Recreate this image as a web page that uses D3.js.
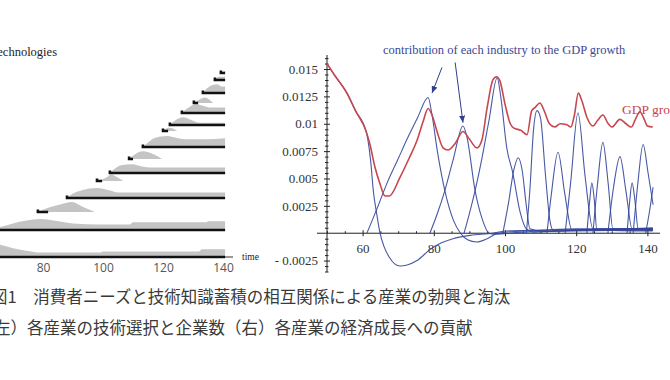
<!DOCTYPE html>
<html>
<head>
<meta charset="utf-8">
<script src="https://cdn.jsdelivr.net/npm/d3@7"></script>
<style>
	body { margin: 0; background: #fff; }
</style>
</head>
<body>
<div id="chart"></div>
<script>
// ---- left panel: industries (technology level, start, end of black line, firms profile)
const industryLevels = [0, 2.7, 4.5, 5.9, 7.6, 8.4, 9.8, 11.0, 12.6, 13.2, 14.4, 15.4, 16.4, 17.7, 18.4];
const industryStart = [60, 60, 78.3, 88, 98, 102.3, 108.7, 113.3, 120, 122.3, 126.3, 130.3, 133.3, 137.3, 139.3];
const industryLineEnd = [140.7, 140.7, 81.7, 140.7, 99.7, 140.7, 110, 140.7, 121.7, 140.7, 140.7, 131.7, 140.7, 140.7, 140.7];
const firmProfiles = [
	[[60, 13], [66, 11], [70, 8], [75, 5.5], [79, 4], [99, 4], [100, 5], [132, 5], [133, 7], [140.7, 7]],
	[[60, 1], [66, 3], [70, 6], [79, 10], [85, 8], [90, 6], [99, 5], [109, 5], [110, 7], [134.5, 7], [135, 8], [140.7, 8]],
	[[78.3, 0], [82, 4], [86, 7], [89.7, 9], [93, 5], [97.3, 0]],
	[[88, 0], [90, 4], [93, 7], [98, 9], [102, 7], [105, 5], [140.7, 5]],
	[[98, 0], [101, 3], [102.7, 6], [105, 3], [106.7, 0]],
	[[102.3, 0], [104, 4], [106, 7], [109.7, 8], [113, 6], [116, 5], [140.7, 5]],
	[[108.7, 0], [110, 3], [113.3, 7], [117, 4], [119.7, 0]],
	[[113.3, 0], [115, 4], [117, 8], [121.3, 10], [125, 8], [128, 7], [134, 7], [140.7, 8]],
	[[120, 0], [122, 3], [123.5, 2], [124.7, 0]],
	[[122.3, 0], [124, 4], [126.7, 7], [129, 5], [132.3, 2], [140.7, 2]],
	[[126.3, 0], [128, 4], [131.3, 8], [134, 6], [136, 5], [140.7, 5]],
	[[130.3, 0], [132, 3], [134, 5], [135.5, 3], [136.7, 0]],
	[[133.3, 0], [135, 5], [138, 8], [139.5, 6], [140.7, 6]],
	[[137.3, 0], [138.5, 3], [140.7, 3]],
	[[139.3, 0], [140.7, 2]],
];
const leftTicks = [80, 100, 120, 140];

// ---- right panel: GDP growth and contribution of each industry
const gdpGrowth = [
	[50, 0.0155], [52, 0.0145], [55.6, 0.0128], [58, 0.0112], [61, 0.0093], [62, 0.0082], [63.5, 0.006],
	[64.9, 0.0045], [66.3, 0.0034], [67.5, 0.0034], [70.5, 0.0051], [73, 0.0068], [75.3, 0.0085], [77, 0.0102],
	[78.4, 0.0114], [79.5, 0.0108], [81, 0.0092], [82.6, 0.0078], [84, 0.0076], [86, 0.0082], [88.2, 0.0093],
	[90, 0.0086], [92.1, 0.0078], [93.5, 0.0085], [95, 0.0115], [96.6, 0.014], [97.6, 0.0143], [98.6, 0.0139],
	[100, 0.0118], [101.5, 0.01], [102.5, 0.0096], [104.5, 0.0094], [106.2, 0.009], [107.5, 0.0112], [108.5, 0.0115],
	[109.8, 0.0119], [111, 0.0112], [112.5, 0.01], [114, 0.0097], [115.5, 0.01], [117.4, 0.0099], [118.5, 0.0097],
	[119.5, 0.0108], [120.6, 0.0128], [121.5, 0.0122], [123, 0.0106], [124.7, 0.0098], [126, 0.0103], [127.5, 0.0108],
	[129, 0.01], [130, 0.0097], [132.3, 0.0104], [134, 0.01], [135.5, 0.0097], [136.5, 0.0103], [137.9, 0.0111],
	[139, 0.0105], [140, 0.0098], [141.5, 0.0097],
];
const contributions = [
	[[50, 0.0155], [52, 0.0145], [55.6, 0.0128], [58, 0.0112], [61, 0.0093], [61.5, 0.0085], [62.3, 0.0065], [63, 0.0039],
		[64, 0.0017], [64.9, 0], [66, -0.0012], [67.5, -0.0022], [69, -0.0028], [70.5, -0.003], [72.5, -0.0029],
		[75.3, -0.0025], [78.9, -0.0015], [82, -0.0009], [85.4, -0.0005], [90.2, -0.0002], [96.6, 0], [100, 0.0002],
		[110, 0.0003], [120, 0.0004], [141.5, 0.0004]],
	[[61.2, 0], [64, 0.0022], [66.9, 0.0046], [70, 0.0068], [72.5, 0.0086], [75.5, 0.0106], [78.4, 0.0124], [79.5, 0.0108],
		[81, 0.0075], [83.1, 0.0039], [85.5, 0.0012], [87.5, 0], [89.5, -0.0006], [92, -0.0008], [95, -0.0005], [98, 0],
		[105, 0.0002], [120, 0.0003], [141.5, 0.0003]],
	[[78.9, 0], [81, 0.0018], [83.1, 0.0039], [85.5, 0.0068], [88.2, 0.0098], [89.3, 0.0088], [91.6, 0.0039],
		[93.5, 0.0014], [95.5, 0], [97, -0.0001], [105, 0.0001], [141.5, 0.0003]],
	[[88.5, 0], [90, 0.0018], [91.6, 0.0039], [93.5, 0.0068], [95.5, 0.0103], [97.8, 0.0142], [98.8, 0.0125],
		[100.5, 0.0078], [102.2, 0.0055], [104.2, 0.002], [106, 0.0004], [108, 0.0001], [120, 0.0003], [141.5, 0.0004]],
	[[99.4, 0], [101, 0.0028], [102.5, 0.0058], [103.7, 0.0069], [104.8, 0.0058], [106, 0.0025], [107, 0.0004],
		[110, 0.0002], [141.5, 0.0005]],
	[[106, 0], [107, 0.004], [108, 0.0094], [109, 0.0112], [110, 0.0105], [111.3, 0.0056], [112.6, 0.0012],
		[113.5, 0.0003], [141.5, 0.0004]],
	[[111.8, 0], [113, 0.0035], [114.9, 0.0074], [116.8, 0.0036], [118.8, 0.0003], [141.5, 0.0003]],
	[[116.9, 0], [118.5, 0.0048], [120.5, 0.011], [122.5, 0.0052], [124.7, 0.0004], [141.5, 0.0004]],
	[[123, 0], [123.8, 0.003], [124.4, 0.0046], [125.1, 0.003], [125.8, 0.0003], [141.5, 0.0002]],
	[[124.7, 0], [126, 0.0045], [127.5, 0.0083], [129, 0.0045], [130.3, 0.0004], [141.5, 0.0004]],
	[[128.9, 0], [130.5, 0.0042], [132.3, 0.007], [134, 0.0038], [135.7, 0.0004], [141.5, 0.0003]],
	[[134.3, 0], [135, 0.0028], [135.7, 0.0046], [136.5, 0.003], [137.4, 0.0004], [141.5, 0.0003]],
	[[136, 0], [137.3, 0.0045], [138.8, 0.0081], [140.2, 0.0055], [141.6, 0.0026]],
	[[139.5, 0], [140.5, 0.0018], [141.6, 0.0042]],
];
const rightXTicks = [60, 80, 100, 120, 140];
const rightYTicks = [-0.0025, 0.0025, 0.005, 0.0075, 0.01, 0.0125, 0.015];
const rightYLabels = ['- 0.0025', '0.0025', '0.005', '0.0075', '0.01', '0.0125', '0.015'];
// arrow tails and heads, in data units
const arrows = [
	[[82.3, 0.01515], [79.5, 0.0128]],
	[[86, 0.0156], [88.2, 0.0101]],
];

const captionLines = [
	'図1　消費者ニーズと技術知識蓄積の相互関係による産業の勃興と淘汰',
	'（左）各産業の技術選択と企業数（右）各産業の経済成長への貢献',
];

const width = 670;
const height = 380;
const serif = '"Liberation Serif", "DejaVu Serif", serif';
const blue = '#34469a';
const red = '#c8464e';

const svg = d3.select('#chart').append('svg')
	.attr('width', width)
	.attr('height', height);


/* --------- Left panel --------- */
const xL = d3.scaleLinear().domain([80, 140]).range([43, 223]);
const yL = d3.scaleLinear().domain([0, 20]).range([257, 57]);
const hF = d3.scaleLinear().domain([0, 10]).range([0, 11]);

const left = svg.append('g').attr('class', 'left');

left.append('g')
	.selectAll('path')
		.data(firmProfiles)
		.enter().append('path')
			.attr('fill', '#c4c4c4')
			.attr('d', (d, i) => d3.area()
				.x(p => xL(p[0]))
				.y0(yL(industryLevels[i]))
				.y1(p => yL(industryLevels[i]) - hF(p[1]))
				.curve(d3.curveMonotoneX)(d));

// axis line
left.append('line')
	.attr('x1', 0).attr('x2', 233)
	.attr('y1', yL(0)).attr('y2', yL(0))
	.attr('stroke', '#333').attr('stroke-width', 1);

left.append('g')
	.selectAll('path')
		.data(industryLevels)
		.enter().append('path')
			.attr('fill', 'none')
			.attr('stroke', '#111')
			.attr('stroke-width', 2.6)
			.attr('d', (lv, i) => {
				const y = yL(lv);
				const x0 = xL(industryStart[i]);
				return `M${x0},${y - 2.5}V${y}H${xL(industryLineEnd[i])}`;
			});

const leftAxis = left.append('g')
	.attr('transform', `translate(0, ${yL(0)})`)
	.call(d3.axisBottom(xL).tickValues(leftTicks).tickSize(0).tickPadding(6));
leftAxis.select('.domain').remove();
leftAxis.selectAll('text')
	.attr('font-family', '"Open Sans", "Liberation Sans", sans-serif')
	.attr('font-size', 12)
	.attr('fill', '#555');

left.append('text')
	.attr('x', 57).attr('y', 56)
	.attr('text-anchor', 'end')
	.attr('font-family', serif).attr('font-size', 12.5)
	.attr('fill', '#222')
	.text('technologies');

left.append('text')
	.attr('x', 242).attr('y', 260)
	.attr('font-family', serif).attr('font-size', 9.5)
	.attr('fill', '#222')
	.text('time');


/* --------- Right panel --------- */
const xR = d3.scaleLinear().domain([50, 142]).range([327, 654.5]);
const yR = d3.scaleLinear().domain([-0.004, 0.0161]).range([277, 57]);

const right = svg.append('g').attr('class', 'right');

// axis lines
right.append('line')
	.attr('x1', xR(50)).attr('x2', xR(50))
	.attr('y1', 55).attr('y2', 272)
	.attr('stroke', '#222');
right.append('line')
	.attr('x1', 317).attr('x2', 660)
	.attr('y1', yR(0)).attr('y2', yR(0))
	.attr('stroke', '#222');

const minorY = d3.range(-0.0035, 0.0161, 0.0005).filter(v => Math.abs(v / 0.0025 - Math.round(v / 0.0025)) > 0.01);
const minorX = d3.range(50, 142, 5).filter(v => v % 20 !== 0);

const yAxisG = right.append('g').attr('transform', `translate(${xR(50)}, 0)`);
yAxisG.append('g')
	.call(d3.axisLeft(yR).tickValues(rightYTicks).tickSize(3).tickPadding(6)
		.tickFormat((d, i) => rightYLabels[i]));
yAxisG.append('g')
	.call(d3.axisRight(yR).tickValues(rightYTicks).tickSize(3).tickFormat(''));
yAxisG.append('g')
	.call(d3.axisLeft(yR).tickValues(minorY).tickSize(2).tickFormat(''));
yAxisG.append('g')
	.call(d3.axisRight(yR).tickValues(minorY).tickSize(1.5).tickFormat(''));

const xAxisG = right.append('g').attr('transform', `translate(0, ${yR(0)})`);
xAxisG.append('g')
	.call(d3.axisBottom(xR).tickValues(rightXTicks).tickSize(3).tickPadding(8));
xAxisG.append('g')
	.call(d3.axisTop(xR).tickValues(rightXTicks).tickSize(3).tickFormat(''));
xAxisG.append('g')
	.call(d3.axisTop(xR).tickValues(minorX).tickSize(2).tickFormat(''));

right.selectAll('.domain').remove();
right.selectAll('.tick line').attr('stroke', '#222');
right.selectAll('.tick text')
	.attr('font-family', serif)
	.attr('font-size', 13)
	.attr('fill', '#333');

const line = d3.line()
	.x(d => xR(d[0]))
	.y(d => yR(d[1]))
	.curve(d3.curveMonotoneX);

right.append('g')
	.selectAll('path')
		.data(contributions)
		.enter().append('path')
			.attr('fill', 'none')
			.attr('stroke', blue)
			.attr('stroke-width', 1.1)
			.attr('stroke-opacity', 0.9)
			.attr('d', line);

right.append('path')
	.datum(gdpGrowth)
	.attr('fill', 'none')
	.attr('stroke', red)
	.attr('stroke-width', 1.6)
	.attr('d', line);

// annotations
svg.append('defs').append('marker')
	.attr('id', 'head')
	.attr('viewBox', '0 -3 7 6')
	.attr('refX', 7).attr('refY', 0)
	.attr('markerUnits', 'userSpaceOnUse')
	.attr('markerWidth', 7).attr('markerHeight', 6)
	.attr('orient', 'auto')
	.append('path')
		.attr('d', 'M0,-3L7,0L0,3Z')
		.attr('fill', '#2e3f8e');

right.append('g')
	.selectAll('line')
		.data(arrows)
		.enter().append('line')
			.attr('x1', d => xR(d[0][0])).attr('y1', d => yR(d[0][1]))
			.attr('x2', d => xR(d[1][0])).attr('y2', d => yR(d[1][1]))
			.attr('stroke', '#2e3f8e')
			.attr('stroke-width', 1)
			.attr('marker-end', 'url(#head)');

right.append('text')
	.attr('x', 383).attr('y', 54)
	.attr('font-family', serif).attr('font-size', 12.5)
	.attr('fill', '#3b4796')
	.text('contribution of each industry to the GDP growth');

right.append('text')
	.attr('x', 622).attr('y', 114)
	.attr('font-family', serif).attr('font-size', 13.5)
	.attr('fill', red)
	.text('GDP growth');


/* --------- Caption --------- */
svg.append('g')
	.selectAll('text')
		.data(captionLines)
		.enter().append('text')
			.attr('x', (d, i) => i === 0 ? -9 : -22.5)
			.attr('y', (d, i) => 303 + i * 31)
			.attr('font-family', '"Noto Sans CJK JP", "Noto Sans CJK SC", sans-serif')
			.attr('font-size', 16.5)
			.attr('fill', '#3a3a3a')
			.text(d => d);
</script>
</body>
</html>
